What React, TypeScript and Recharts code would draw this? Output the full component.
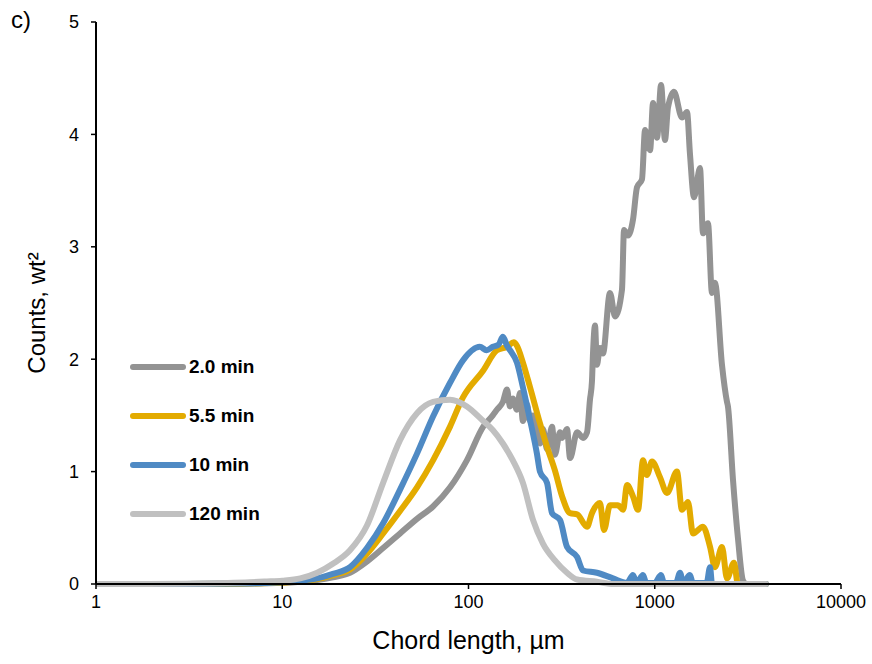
import { Label, Legend, Line, LineChart, XAxis, YAxis } from "recharts";

const FONT = "'Liberation Sans', Arial, sans-serif";

const X_TICKS = [1, 10, 100, 1000, 10000];
const Y_TICKS = [0, 1, 2, 3, 4, 5];
const SERIES_NAMES = ["2.0 min", "5.5 min", "10 min", "120 min"];
const SERIES_COLORS = ["#939393", "#E3AB00", "#4F8AC4", "#C0C0C0"];

// [chord length (µm), counts wt²]
const t2min = [
  [1, 0], [3, 0], [6, 0.003], [8, 0.006], [10, 0.01], [12.5, 0.02], [15.4, 0.035], [18.7, 0.06],
  [23.1, 0.1], [28.5, 0.2], [34.8, 0.32], [42.9, 0.45], [52.9, 0.58], [64.5, 0.69], [79.6, 0.86],
  [98, 1.1], [120, 1.4], [135, 1.5], [142, 1.55], [153, 1.62], [161, 1.73], [167, 1.58], [173, 1.65],
  [182, 1.55], [189, 1.7], [196, 1.45], [206, 1.6], [214, 1.45], [222, 1.5], [233, 1.35], [242, 1.25],
  [251, 1.38], [264, 1.2], [281, 1.4], [291, 1.15], [310, 1.35], [318, 1.3], [338, 1.38], [351, 1.12],
  [383, 1.35], [412, 1.3], [433, 1.35], [449, 1.64], [460, 1.8], [466, 2.05], [478, 2.3], [489, 1.95],
  [508, 2.1], [527, 2.05], [575, 2.59], [612, 2.38], [667, 2.62], [684, 3.15], [718, 3.1], [764, 3.24],
  [803, 3.53], [854, 3.6], [887, 4.04], [944, 3.86], [979, 4.28], [1029, 3.97], [1081, 4.44],
  [1135, 3.95], [1178, 4.24], [1268, 4.38], [1400, 4.15], [1490, 4.2], [1545, 3.83], [1625, 3.44],
  [1750, 3.7], [1815, 3.12], [1931, 3.21], [2029, 2.59], [2105, 2.68], [2296, 1.95], [2443, 1.62],
  [2472, 1.58], [2630, 0.93], [2800, 0.4], [2976, 0.03], [3100, 0], [3956, 0],
];

const t5min = [
  [1, 0], [3, 0], [6, 0.003], [8, 0.007], [10, 0.012], [12.5, 0.025], [15.4, 0.045], [18.7, 0.08],
  [23.1, 0.13], [28.5, 0.27], [34.8, 0.45], [42.9, 0.65], [52.9, 0.86], [64.5, 1.1], [79.6, 1.4],
  [93.4, 1.66], [120, 1.9], [142, 2.08], [161, 2.11], [175, 2.15], [182, 2.12], [196, 1.97],
  [214, 1.75], [242, 1.43], [264, 1.22], [291, 1.01], [318, 0.78], [351, 0.63], [383, 0.62],
  [433, 0.51], [460, 0.63], [508, 0.72], [534, 0.48], [575, 0.7], [635, 0.7], [676, 0.66],
  [710, 0.88], [764, 0.78], [813, 0.66], [865, 1.1], [908, 0.97], [967, 1.09], [1067, 0.95],
  [1163, 0.81], [1316, 1.0], [1400, 0.66], [1508, 0.73], [1604, 0.45], [1815, 0.51], [1981, 0.33],
  [2105, 0.15], [2296, 0.33], [2443, 0.05], [2663, 0.19], [2797, 0], [3956, 0],
];

const t10min = [
  [1, 0], [3, 0], [6, 0.004], [8, 0.008], [10, 0.015], [12.5, 0.03], [15.4, 0.05], [18.7, 0.09],
  [23.1, 0.15], [28.5, 0.32], [34.8, 0.54], [42.9, 0.84], [52.9, 1.16], [64.5, 1.49], [79.6, 1.79],
  [93.4, 1.99], [115, 2.11], [125, 2.08], [135, 2.11], [145, 2.13], [153, 2.2], [161, 2.12],
  [167, 2.08], [182, 1.97], [196, 1.75], [214, 1.46], [233, 1.16], [242, 1.0], [264, 0.9],
  [281, 0.63], [310, 0.57], [338, 0.33], [383, 0.24], [412, 0.12], [489, 0.1], [597, 0.05],
  [710, 0.01], [764, 0.08], [800, 0.01], [865, 0.08], [900, 0.01], [1000, 0.01], [1081, 0.08],
  [1120, 0.01], [1300, 0.01], [1367, 0.1], [1420, 0.01], [1545, 0.08], [1600, 0.01], [1900, 0.01],
  [1981, 0.15], [2030, 0], [3956, 0],
];

const t120min = [
  [1, 0], [3, 0.002], [5, 0.008], [6.7, 0.015], [8, 0.022], [10, 0.03], [12.5, 0.05], [15.4, 0.1],
  [18.7, 0.18], [23.1, 0.3], [28.5, 0.52], [34.8, 0.9], [42.9, 1.28], [52.9, 1.52], [64.5, 1.62],
  [79.6, 1.64], [98, 1.58], [120, 1.45], [135, 1.37], [153, 1.25], [173, 1.1], [196, 0.9],
  [222, 0.57], [251, 0.36], [291, 0.21], [338, 0.1], [383, 0.04], [489, 0.02], [600, 0], [3956, 0],
];

const SERIES = [t2min, t5min, t10min, t120min];

const toRows = (pts: number[][]) => pts.map(([x, y]) => ({ x, y }));

const tickStyle = { fontFamily: FONT, fontSize: 18, fill: "#000" };

function LegendBox() {
  return (
    <div style={{ fontFamily: FONT, fontWeight: "bold", fontSize: 19, color: "#000" }}>
      {SERIES_NAMES.map((name, i) => (
        <div key={name} style={{ display: "flex", alignItems: "center", height: 49 }}>
          <span
            style={{
              display: "inline-block",
              width: 56,
              height: 6,
              borderRadius: 3,
              background: SERIES_COLORS[i],
              marginRight: 3,
            }}
          />
          {name}
        </div>
      ))}
    </div>
  );
}

export default function App() {
  return (
    <div style={{ position: "absolute", left: 0, top: 0, width: 872, height: 664, background: "#fff" }}>
      <div style={{ position: "absolute", left: 11, top: 8, fontFamily: FONT, fontSize: 24, lineHeight: 1 }}>c)</div>
      <LineChart width={872} height={664} margin={{ top: 22, right: 31, left: 0, bottom: 0 }}>
        <XAxis
          dataKey="x"
          type="number"
          scale="log"
          domain={[1, 10000]}
          ticks={X_TICKS}
          allowDataOverflow
          height={80}
          tick={tickStyle}
          tickSize={5}
          tickMargin={6}
          axisLine={{ stroke: "#000", strokeWidth: 2 }}
          tickLine={{ stroke: "#000", strokeWidth: 1.5 }}
        >
          <Label
            value="Chord length, µm"
            position="insideBottom"
            offset={15}
            style={{ fontFamily: FONT, fontSize: 25, fill: "#000" }}
          />
        </XAxis>
        <XAxis
          xAxisId="top"
          orientation="top"
          type="number"
          scale="log"
          domain={[1, 10000]}
          height={0}
          tick={false}
          tickLine={false}
          axisLine={{ stroke: "#000", strokeWidth: 2 }}
        />
        <YAxis
          type="number"
          domain={[0, 5]}
          ticks={Y_TICKS}
          width={96}
          tick={tickStyle}
          tickSize={5}
          tickMargin={12}
          axisLine={{ stroke: "#000", strokeWidth: 2 }}
          tickLine={{ stroke: "#000", strokeWidth: 1.5 }}
        >
          <Label
            value="Counts, wt²"
            angle={-90}
            position="insideLeft"
            offset={36}
            dy={10}
            style={{ fontFamily: FONT, fontSize: 24, fill: "#000", textAnchor: "middle" }}
          />
        </YAxis>
        <YAxis
          yAxisId="right"
          orientation="right"
          domain={[0, 5]}
          width={0}
          tick={false}
          tickLine={false}
          axisLine={{ stroke: "#000", strokeWidth: 2 }}
        />
        <Legend
          layout="horizontal"
          verticalAlign="middle"
          align="center"
          content={() => <LegendBox />}
          wrapperStyle={{ left: 130, top: 342, width: "auto" }}
        />
        {SERIES.map((pts, i) => (
          <Line
            key={SERIES_NAMES[i]}
            data={toRows(pts)}
            dataKey="y"
            name={SERIES_NAMES[i]}
            type="monotone"
            stroke={SERIES_COLORS[i]}
            strokeWidth={6}
            strokeLinecap="round"
            strokeLinejoin="round"
            dot={false}
            activeDot={false}
            isAnimationActive={false}
          />
        ))}
      </LineChart>
    </div>
  );
}
